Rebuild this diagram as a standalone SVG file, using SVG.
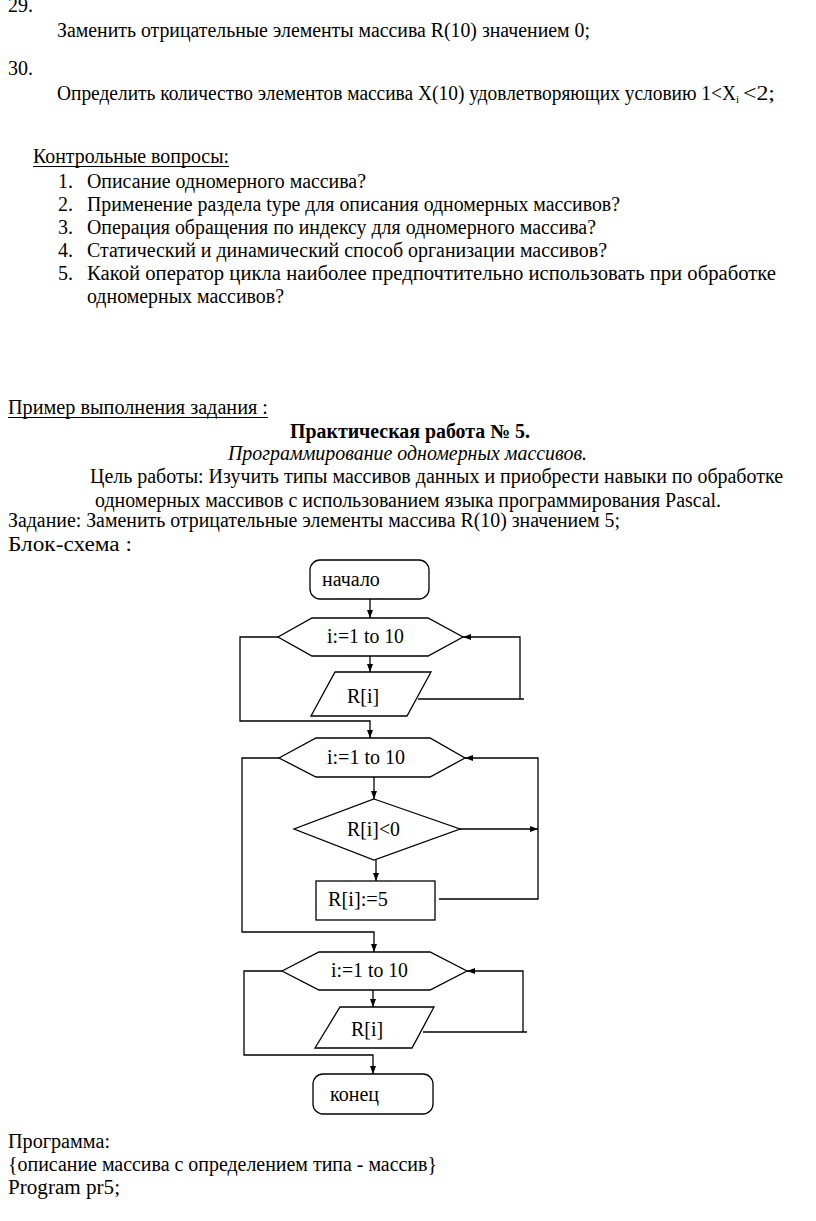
<svg xmlns="http://www.w3.org/2000/svg" width="816" height="1221" viewBox="0 0 816 1221">
<style>
text{font-family:"Liberation Serif","Times New Roman",serif;font-size:20px;fill:#000}
.b{font-weight:bold}
.i{font-style:italic}
.s{fill:none;stroke:#000;stroke-width:1.3}
.n{fill:#fff;stroke:#000;stroke-width:1.3}
.ul{stroke:#000;stroke-width:1.2}
</style>
<defs>
<marker id="ah" markerUnits="userSpaceOnUse" markerWidth="8" markerHeight="8" viewBox="0 0 8 8" refX="8" refY="4" orient="auto">
<path d="M0,1 L8,4 L0,7 z" fill="#000"/>
</marker>
</defs>
<rect width="816" height="1221" fill="#fff"/>
<g id="text">
<text x="8" y="12">29.</text>
<text x="57" y="37" textLength="533" lengthAdjust="spacingAndGlyphs">Заменить отрицательные элементы массива R(10) значением 0;</text>
<text x="8" y="75">30.</text>
<text x="57" y="100" textLength="679" lengthAdjust="spacingAndGlyphs">Определить количество элементов массива X(10) удовлетворяющих условию 1&lt;X</text>
<text x="736" y="103" style="font-size:11px">i</text>
<text x="743" y="100" textLength="32" lengthAdjust="spacingAndGlyphs">&lt;2;</text>
<text x="33" y="163" textLength="196" lengthAdjust="spacingAndGlyphs">Контрольные вопросы:</text>
<line class="ul" x1="33" y1="166.5" x2="229" y2="166.5"/>
<text x="58" y="188">1.</text><text x="87" y="188" textLength="279" lengthAdjust="spacingAndGlyphs">Описание одномерного массива?</text>
<text x="58" y="211">2.</text><text x="87" y="211" textLength="533" lengthAdjust="spacingAndGlyphs">Применение раздела type для описания одномерных массивов?</text>
<text x="58" y="234">3.</text><text x="87" y="234" textLength="509" lengthAdjust="spacingAndGlyphs">Операция обращения по индексу для одномерного массива?</text>
<text x="58" y="257">4.</text><text x="87" y="257" textLength="520" lengthAdjust="spacingAndGlyphs">Статический и динамический способ организации массивов?</text>
<text x="58" y="280">5.</text><text x="87" y="280" textLength="689" lengthAdjust="spacingAndGlyphs">Какой оператор цикла наиболее предпочтительно использовать при обработке</text>
<text x="87" y="303" textLength="197" lengthAdjust="spacingAndGlyphs">одномерных массивов?</text>
<text x="8" y="414" textLength="260" lengthAdjust="spacingAndGlyphs">Пример выполнения задания :</text>
<line class="ul" x1="8" y1="417.5" x2="268" y2="417.5"/>
<text class="b" x="290" y="438" textLength="240" lengthAdjust="spacingAndGlyphs">Практическая работа № 5.</text>
<text class="i" x="228" y="460" textLength="359" lengthAdjust="spacingAndGlyphs">Программирование одномерных массивов.</text>
<text x="90" y="483" textLength="693" lengthAdjust="spacingAndGlyphs">Цель работы: Изучить типы массивов данных и приобрести навыки по обработке</text>
<text x="95" y="507" textLength="626" lengthAdjust="spacingAndGlyphs">одномерных массивов с использованием языка программирования Pascal.</text>
<text x="8" y="527" textLength="612" lengthAdjust="spacingAndGlyphs">Задание: Заменить отрицательные элементы массива R(10) значением 5;</text>
<text x="8" y="551" textLength="124" lengthAdjust="spacingAndGlyphs">Блок-схема :</text>
<text x="8" y="1148" textLength="102" lengthAdjust="spacingAndGlyphs">Программа:</text>
<text x="8" y="1171" textLength="429" lengthAdjust="spacingAndGlyphs">{описание массива с определением типа - массив}</text>
<text x="8" y="1194" textLength="112" lengthAdjust="spacingAndGlyphs">Program pr5;</text>
</g>
<g id="connectors">
<line class="s" x1="370" y1="599" x2="370" y2="618" marker-end="url(#ah)"/>
<line class="s" x1="370" y1="656" x2="370" y2="672" marker-end="url(#ah)"/>
<polyline class="s" points="418,699 524,699"/>
<polyline class="s" points="520,699 520,637 463,637" marker-end="url(#ah)"/>
<polyline class="s" points="278,637 240,637 240,721 370,721 370,738" marker-end="url(#ah)"/>
<line class="s" x1="374" y1="777" x2="374" y2="799" marker-end="url(#ah)"/>
<line class="s" x1="460" y1="829" x2="538" y2="829" marker-end="url(#ah)"/>
<line class="s" x1="376" y1="860" x2="376" y2="881" marker-end="url(#ah)"/>
<polyline class="s" points="439,899 538,899 538,758 465,758" marker-end="url(#ah)"/>
<polyline class="s" points="279,758 242,758 242,932 374,932 374,952" marker-end="url(#ah)"/>
<line class="s" x1="373" y1="990" x2="373" y2="1007" marker-end="url(#ah)"/>
<polyline class="s" points="423,1032 527,1032"/>
<polyline class="s" points="523,1032 523,971 467,971" marker-end="url(#ah)"/>
<polyline class="s" points="282,971 244,971 244,1055 373,1055 373,1074" marker-end="url(#ah)"/>
</g>
<g id="start">
<rect class="n" x="310" y="560" width="119" height="39" rx="10"/>
<text x="322" y="586">начало</text>
</g>
<g id="loop1">
<polygon class="n" points="278,637 312,618 428,618 463,637 428,656 312,656"/>
<text x="327" y="643" textLength="77" lengthAdjust="spacingAndGlyphs">i:=1 to 10</text>
</g>
<g id="input1">
<polygon class="n" points="335,672 431,672 407,716 311,716"/>
<text x="347" y="703">R[i]</text>
</g>
<g id="loop2">
<polygon class="n" points="279,758 316,738 430,738 465,758 430,777 316,777"/>
<text x="327" y="764" textLength="78" lengthAdjust="spacingAndGlyphs">i:=1 to 10</text>
</g>
<g id="cond">
<polygon class="n" points="374,799 460,829 374,860 294,829"/>
<text x="347" y="836" textLength="53" lengthAdjust="spacingAndGlyphs">R[i]&lt;0</text>
</g>
<g id="assign">
<rect class="n" x="316" y="881" width="119" height="39"/>
<text x="328" y="906" textLength="60" lengthAdjust="spacingAndGlyphs">R[i]:=5</text>
</g>
<g id="loop3">
<polygon class="n" points="282,971 319,952 430,952 467,971 430,990 319,990"/>
<text x="331" y="977" textLength="77" lengthAdjust="spacingAndGlyphs">i:=1 to 10</text>
</g>
<g id="output">
<polygon class="n" points="340,1007 434,1007 412,1048 315,1048"/>
<text x="351" y="1036">R[i]</text>
</g>
<g id="end">
<rect class="n" x="313" y="1074" width="120" height="40" rx="10"/>
<text x="330" y="1101">конец</text>
</g>
</svg>
